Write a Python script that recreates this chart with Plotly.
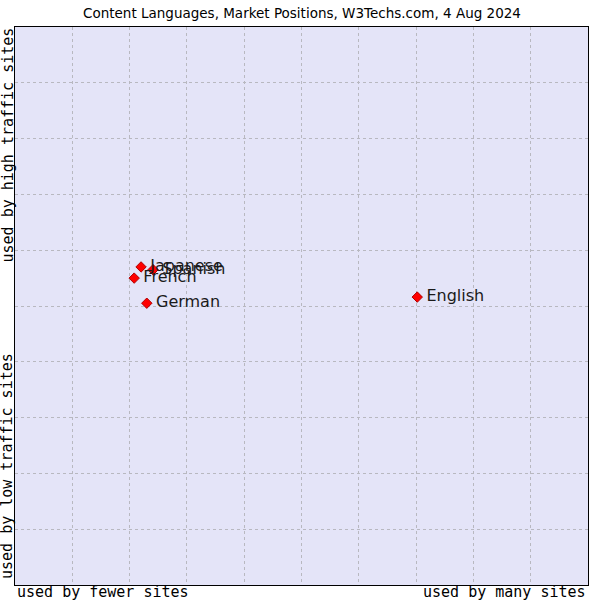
import plotly.graph_objects as go

languages = ["Japanese", "Spanish", "French", "German", "English"]
x_vals = [2.20, 2.41, 2.08, 2.30, 7.02]
y_vals = [5.70, 5.65, 5.50, 5.05, 5.16]

title = "Content Languages, Market Positions, W3Techs.com, 4 Aug 2024"

fig = go.Figure()
fig.add_trace(go.Scatter(
    x=x_vals, y=y_vals, mode="markers+text",
    text=["\u2009" + t for t in languages],
    textposition="middle right",
    textfont=dict(family="DejaVu Sans", size=16, color="#1a1a1a"),
    marker=dict(symbol="diamond", size=8, color="#ff0000",
                line=dict(color="#b00000", width=1)),
    cliponaxis=False, showlegend=False, hoverinfo="skip",
))

axis_common = dict(range=[0, 10], dtick=1, showticklabels=False, ticks="",
                   showgrid=True, gridcolor="#b8b8c0", griddash="dot", gridwidth=1,
                   zeroline=False, showline=True, linecolor="black", linewidth=1,
                   mirror=True, fixedrange=True)

mono = dict(family="DejaVu Sans Mono", size=15, color="black")

fig.update_layout(
    width=600, height=600,
    margin=dict(l=15, r=12, t=27, b=15),
    paper_bgcolor="white", plot_bgcolor="#e4e4f8",
    xaxis=axis_common, yaxis=axis_common,
    font=dict(family="DejaVu Sans"),
    annotations=[
        dict(text=title, xref="paper", yref="paper", x=0.5, y=1, yshift=14,
             xanchor="center", yanchor="middle", showarrow=False,
             font=dict(family="DejaVu Sans", size=13.5, color="#000000")),
        dict(text="used by fewer sites", xref="paper", yref="paper", x=0, y=0,
             xanchor="left", yanchor="top", showarrow=False, xshift=0, yshift=4,
             font=mono),
        dict(text="used by many sites", xref="paper", yref="paper", x=1, y=0,
             xanchor="right", yanchor="top", showarrow=False, xshift=0, yshift=4,
             font=mono),
        dict(text="used by low traffic sites", xref="paper", yref="paper", x=0, y=0,
             xanchor="right", yanchor="bottom", textangle=-90, showarrow=False,
             xshift=3, yshift=4, font=mono),
        dict(text="used by high traffic sites", xref="paper", yref="paper", x=0, y=1,
             xanchor="right", yanchor="top", textangle=-90, showarrow=False,
             xshift=3, yshift=1, font=mono),
    ],
)

fig.write_html("out.html")
